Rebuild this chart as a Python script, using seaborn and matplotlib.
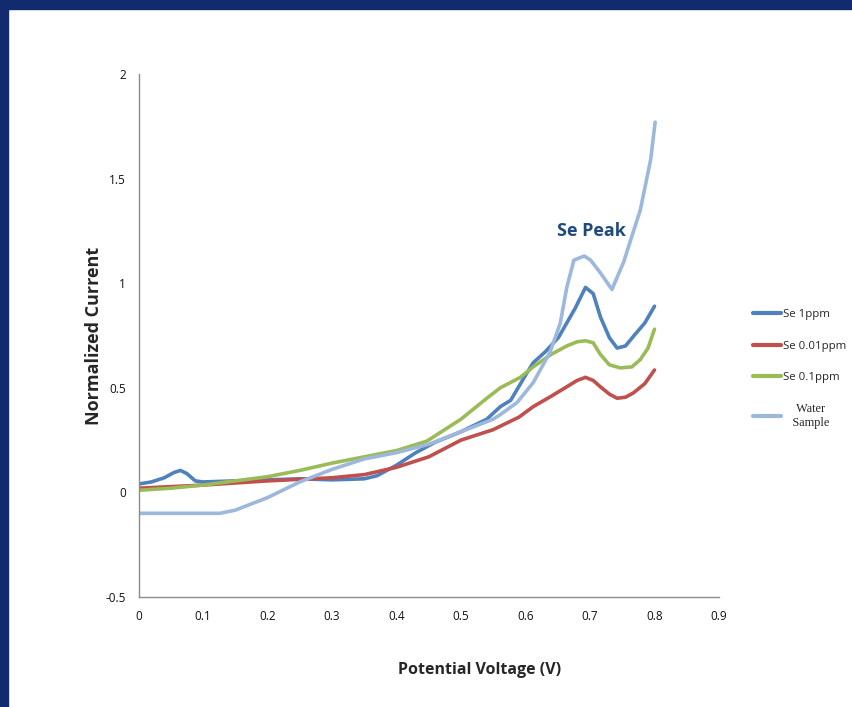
import numpy as np
import pandas as pd
import seaborn as sns
import matplotlib.pyplot as plt
from matplotlib.patches import Rectangle

# %% Data
se1_x = [0, 0.02, 0.04, 0.055, 0.065, 0.075, 0.088, 0.1, 0.15, 0.2, 0.25, 0.3, 0.35, 0.37,
         0.4, 0.43, 0.46, 0.5, 0.54, 0.561, 0.577, 0.6, 0.612, 0.63, 0.651, 0.677, 0.693,
         0.705, 0.716, 0.73, 0.742, 0.755, 0.767, 0.785, 0.8]
se1_y = [0.04, 0.05, 0.07, 0.095, 0.105, 0.09, 0.055, 0.05, 0.055, 0.06, 0.065, 0.06, 0.065, 0.08,
         0.13, 0.19, 0.24, 0.29, 0.35, 0.41, 0.44, 0.56, 0.62, 0.67, 0.74, 0.88, 0.98,
         0.95, 0.84, 0.74, 0.69, 0.70, 0.745, 0.81, 0.89]

se001_x = [0, 0.1, 0.2, 0.3, 0.35, 0.4, 0.45, 0.5, 0.55, 0.59, 0.612, 0.64, 0.664, 0.68,
           0.693, 0.705, 0.716, 0.73, 0.742, 0.755, 0.767, 0.785, 0.8]
se001_y = [0.02, 0.035, 0.055, 0.07, 0.085, 0.12, 0.17, 0.25, 0.30, 0.36, 0.41, 0.46, 0.505, 0.535,
           0.55, 0.535, 0.505, 0.47, 0.45, 0.455, 0.475, 0.52, 0.585]

se01_x = [0, 0.05, 0.1, 0.15, 0.2, 0.25, 0.3, 0.35, 0.4, 0.447, 0.5, 0.54, 0.561, 0.592, 0.612,
          0.64, 0.664, 0.68, 0.693, 0.705, 0.716, 0.73, 0.747, 0.765, 0.778, 0.79, 0.8]
se01_y = [0.01, 0.02, 0.035, 0.055, 0.075, 0.105, 0.14, 0.17, 0.2, 0.245, 0.35, 0.45, 0.5, 0.55, 0.60,
          0.66, 0.70, 0.72, 0.725, 0.715, 0.66, 0.61, 0.595, 0.60, 0.635, 0.69, 0.78]

water_x = [0, 0.05, 0.1, 0.126, 0.15, 0.2, 0.25, 0.3, 0.35, 0.4, 0.45, 0.5, 0.55, 0.561, 0.587,
           0.612, 0.638, 0.654, 0.664, 0.675, 0.691, 0.701, 0.716, 0.734, 0.752, 0.778, 0.794, 0.801]
water_y = [-0.10, -0.10, -0.10, -0.10, -0.085, -0.025, 0.05, 0.11, 0.16, 0.19, 0.23, 0.29, 0.35, 0.372, 0.43,
           0.525, 0.67, 0.81, 0.98, 1.11, 1.13, 1.11, 1.05, 0.97, 1.10, 1.35, 1.59, 1.77]

series = ["Se 1ppm", "Se 0.01ppm", "Se 0.1ppm", "Water\nSample"]
xs = [se1_x, se001_x, se01_x, water_x]
ys = [se1_y, se001_y, se01_y, water_y]

df = pd.concat([pd.DataFrame({"V": x, "I": y, "series": s}) for s, x, y in zip(series, xs, ys)],
               ignore_index=True)

my_pal = {"Se 1ppm": "#4f81bd", "Se 0.01ppm": "#c0504d", "Se 0.1ppm": "#9bbb59",
          "Water\nSample": "#9db8dc"}

# %% Plot
sns.set_style("white")
plt.rcParams['font.family'] = ['Open Sans', 'DejaVu Sans']

fig = plt.figure(figsize=(8.53, 7.07), dpi=100)
fig.patch.set_facecolor("white")
# slide border
fig.patches.append(Rectangle((0, 1 - 9 / 707), 1, 9 / 707, transform=fig.transFigure,
                             color="#112b6e", zorder=0))
fig.patches.append(Rectangle((0, 0), 8 / 853, 1, transform=fig.transFigure,
                             color="#112b6e", zorder=0))

ax = fig.add_axes([138.5 / 853, 110 / 707, 580.5 / 853, 523 / 707])
sns.lineplot(data=df, x="V", y="I", hue="series", hue_order=series, palette=my_pal,
             estimator=None, sort=False, lw=2.6, ax=ax, legend=True)

ax.set_xlim(0, 0.9)
ax.set_ylim(-0.5, 2)
ax.set_xticks(np.arange(0, 0.91, 0.1))
ax.set_xticklabels(["0", "0.1", "0.2", "0.3", "0.4", "0.5", "0.6", "0.7", "0.8", "0.9"])
ax.set_yticks([-0.5, 0, 0.5, 1, 1.5, 2])
ax.set_yticklabels(["-0.5", "0", "0.5", "1", "1.5", "2"])
ax.tick_params(axis="both", direction="out", length=5, width=1, color="#8c8c8c",
               labelsize=8.5, labelcolor="#111111", pad=4)
ax.spines[['right', 'top']].set_visible(False)
for axis in ['left', 'bottom']:
    ax.spines[axis].set_color("#8c8c8c")
    ax.spines[axis].set_linewidth(1)

ax.set_xlabel("Potential Voltage (V)", fontsize=11.5, fontweight="bold")
ax.xaxis.set_label_coords(0.588, -0.125)
ax.set_ylabel("Normalized Current", fontsize=13, fontweight="bold")
ax.yaxis.set_label_coords(-0.062, 0.5)

ax.text(0.702, 1.25, "Se Peak", ha="center", va="center", fontsize=13, fontweight="bold",
        color="#1f4a7e")

leg = ax.legend(loc="upper left", bbox_to_anchor=(743 / 853, 1 - 299 / 707),
                bbox_transform=fig.transFigure, frameon=False, fontsize=8.2,
                handlelength=2.4, handletextpad=0.2, labelspacing=1.78)
for line in leg.get_lines():
    line.set_linewidth(3)
txt = leg.get_texts()[3]
txt.set_text("   Water\n   Sample")
txt.set_family(["Liberation Serif", "DejaVu Serif"])
txt.set_fontsize(8.8)
txt.set_multialignment("center")

fig.savefig("out.png", dpi=100, facecolor="white")
